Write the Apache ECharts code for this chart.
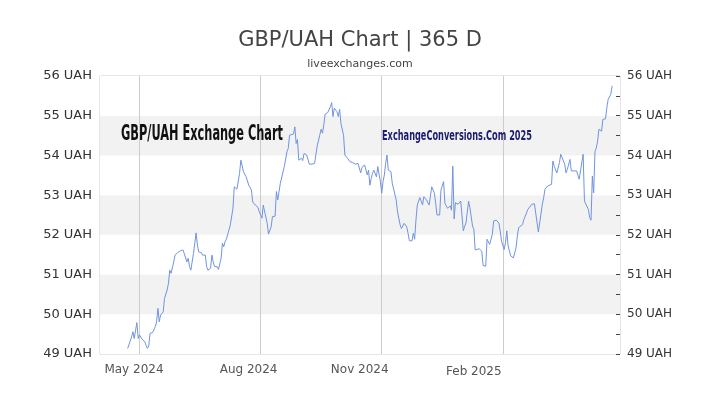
<!DOCTYPE html>
<html><head><meta charset="utf-8">
<script src="https://cdn.jsdelivr.net/npm/echarts@6/dist/echarts.min.js"></script>
<style>html,body{margin:0;padding:0;background:#fff}#c{width:720px;height:405px}</style>
</head><body><div id="c"></div>
<script>
// ---- data ----
const startDate = '2024-04-01';
const endDate = '2025-05-01';
// day offsets from startDate
const dayOffsets = [21,24,25,26,27,28,29,30,32,33,34,35,36,37,38,40,42,43,44,45,46,48,49,51,52,53,54,56,57,59,61,63,64,66,67,68,69,70,71,72,73,74,75,77,78,80,81,82,84,85,86,87,88,89,90,92,93,94,95,96,97,99,100,101,102,104,105,106,107,109,110,111,113,115,116,118,120,121,123,124,125,127,128,129,130,131,133,134,135,137,138,140,141,142,143,144,145,147,148,149,150,151,153,154,155,156,157,159,161,163,164,165,166,168,169,170,171,173,174,175,176,177,178,180,181,182,183,185,186,187,188,190,192,194,196,197,198,199,201,202,203,204,205,206,207,208,209,210,211,212,213,214,215,216,217,218,219,221,222,223,225,226,228,229,230,231,233,234,235,237,238,239,240,241,242,243,244,245,246,247,248,250,251,252,254,255,256,258,259,261,262,263,264,266,267,268,269,270,272,273,274,276,277,278,280,281,283,284,285,286,288,290,291,293,294,295,296,298,299,301,303,304,305,307,308,309,310,312,313,314,316,317,318,319,321,322,323,324,325,326,328,329,330,331,333,334,336,337,338,339,340,341,343,344,345,347,348,349,350,352,353,354,355,357,358,359,360,362,363,364,365,367,368,369,371,372,373,374,375,376,377,378,379,381,382,384,385,386,388,389];
const rates = [49.14,49.43,49.56,49.39,49.43,49.79,49.39,49.48,49.37,49.35,49.31,49.22,49.14,49.20,49.52,49.54,49.69,49.81,50.15,49.81,49.98,50.06,50.40,50.61,50.78,51.11,51.03,51.32,51.49,51.55,51.60,51.62,51.53,51.32,51.41,51.20,51.11,51.11,51.53,51.79,52.05,51.74,51.57,51.55,51.49,51.49,51.20,51.11,51.16,51.49,51.32,51.20,51.16,51.20,51.13,51.41,51.79,51.70,51.83,51.89,51.91,52.25,52.29,52.67,53.21,53.15,53.17,53.55,53.88,53.59,53.59,53.46,53.25,53.13,52.83,52.75,52.69,52.58,52.42,52.75,52.78,52.29,52.02,52.00,52.20,52.46,52.47,53.09,52.88,53.30,53.34,53.72,53.72,54.09,54.18,54.51,54.56,54.54,54.72,54.30,54.40,53.88,53.93,53.87,54.05,54.09,54.01,53.78,53.78,53.80,53.82,54.24,54.24,54.66,54.56,54.77,55.04,55.08,55.04,55.23,55.33,54.98,55.19,55.10,54.98,55.16,54.81,54.51,54.01,53.98,53.93,53.84,53.82,53.78,53.80,53.76,53.56,53.70,53.76,53.72,53.51,53.63,53.25,53.42,53.55,53.63,53.67,53.46,53.72,53.76,53.34,53.05,53.34,53.51,53.80,54.01,53.63,53.59,53.30,53.28,52.88,52.58,52.25,52.16,52.20,52.29,52.20,52.04,51.85,51.85,52.04,51.89,52.37,52.75,52.79,52.94,52.98,52.75,52.96,52.98,52.88,52.75,52.98,53.21,53.05,52.79,52.50,52.50,53.13,53.34,52.79,52.75,52.67,52.73,52.62,53.73,52.40,52.81,52.77,52.81,52.85,52.10,52.22,52.30,52.85,52.68,52.22,52.14,51.62,51.63,51.65,51.59,51.23,51.21,51.89,51.90,51.76,52.01,52.35,52.37,52.30,52.10,51.84,51.63,51.80,52.10,51.72,51.47,51.42,51.42,51.67,51.97,52.18,52.22,52.26,52.39,52.47,52.43,52.64,52.60,52.77,52.73,52.78,52.77,52.07,52.07,52.77,52.93,53.15,53.10,53.23,53.19,53.27,53.86,53.73,53.56,53.61,53.82,54.03,53.86,53.78,53.56,53.65,53.90,53.61,53.65,53.61,53.61,53.56,53.40,53.61,54.03,52.85,52.83,52.64,52.43,52.37,53.48,53.06,54.10,54.19,54.36,54.66,54.61,54.91,54.92,55.20,55.41,55.54,55.75];
const xTickDates = ['2024-05-01','2024-08-01','2024-11-01','2025-02-01'];
const xTickLabels = ['May 2024','Aug 2024','Nov 2024','Feb 2025'];
const yMin = 49, yMax = 56, yStep = 1;
const titleText = 'GBP/UAH Chart | 365 D';
const subText = 'liveexchanges.com';
const mark1 = 'GBP/UAH Exchange Chart';
const mark2 = 'ExchangeConversions.Com 2025';

// ---- build ----
const DAY = 86400000;
const toMs = s => Date.parse(s + 'T00:00:00Z');
const t0 = toMs(startDate);
const seriesData = dayOffsets.map((d, i) => [t0 + d * DAY, rates[i]]);
const tickMs = xTickDates.map(toMs);

function fitScale(text, font, w) {
  const ctx = document.createElement('canvas').getContext('2d');
  ctx.font = font;
  return w / ctx.measureText(text).width;
}
const f1 = 'bold 21px "DejaVu Sans Condensed", "DejaVu Sans"';
const f2 = 'bold 14px "DejaVu Sans Condensed", "DejaVu Sans"';

const richX = {
  l0: {padding: [0, 11, 0, 0]},
  l1: {padding: [0, 24, 0, 0]},
  l2: {padding: [0, 44, 0, 0]},
  l3: {padding: [2, 58, 0, 0]}
};

const chart = echarts.init(document.getElementById('c'));
chart.setOption({
  animation: false,
  backgroundColor: '#fff',
  textStyle: {fontFamily: 'DejaVu Sans'},
  title: {
    text: titleText, subtext: subText, left: 'center', top: 25, itemGap: 8,
    textStyle: {fontSize: 21, fontWeight: 'normal', color: '#444', fontFamily: 'DejaVu Sans'},
    subtextStyle: {fontSize: 11, color: '#444', fontFamily: 'DejaVu Sans'}
  },
  grid: {left: 100, right: 100, top: 76, bottom: 51, show: true, borderColor: '#ccc', borderWidth: 1, containLabel: false},
  xAxis: {
    type: 'value', min: toMs(startDate), max: toMs(endDate),
    axisLine: {show: false},
    axisTick: {show: false, customValues: tickMs},
    splitLine: {show: true, lineStyle: {color: '#ccc', width: 1}},
    axisLabel: {
      customValues: tickMs, margin: 10, fontSize: 12, color: '#555', align: 'center',
      showMinLabel: true, showMaxLabel: true,
      formatter: v => { const i = tickMs.indexOf(v); return i < 0 ? '' : '{l' + i + '|' + xTickLabels[i] + '}'; },
      rich: richX
    }
  },
  yAxis: [{
    type: 'value', min: yMin, max: yMax, interval: yStep, position: 'left',
    axisLine: {show: false}, axisTick: {show: false},
    splitLine: {show: false},
    splitArea: {show: true, areaStyle: {color: ['#ffffff', '#f2f2f2']}},
    axisLabel: {formatter: '{value} UAH', fontSize: 13, color: '#333', margin: 8}
  }, {
    type: 'value', min: yMin, max: yMax, interval: yStep, position: 'right',
    axisLine: {show: false},
    axisTick: {show: true, inside: true, length: 4, lineStyle: {color: '#444'}},
    minorTick: {show: true, splitNumber: 2, length: 4, lineStyle: {color: '#444'}},
    splitLine: {show: false},
    axisLabel: {formatter: '{value} UAH', fontSize: 12, color: '#333', margin: 7}
  }],
  graphic: [
    {type: 'text', x: 121, y: 135, scaleX: fitScale(mark1, f1, 162), z: 1, silent: true,
     style: {text: mark1, font: f1, fill: '#111', align: 'left', verticalAlign: 'middle'}},
    {type: 'text', x: 382, y: 136, scaleX: fitScale(mark2, f2, 150), z: 1, silent: true,
     style: {text: mark2, font: f2, fill: '#1c1c6e', align: 'left', verticalAlign: 'middle'}}
  ],
  series: [{
    type: 'line', data: seriesData, showSymbol: false, symbol: 'none',
    lineStyle: {color: '#7094e0', width: 1}, z: 3
  }]
});
</script></body></html>
